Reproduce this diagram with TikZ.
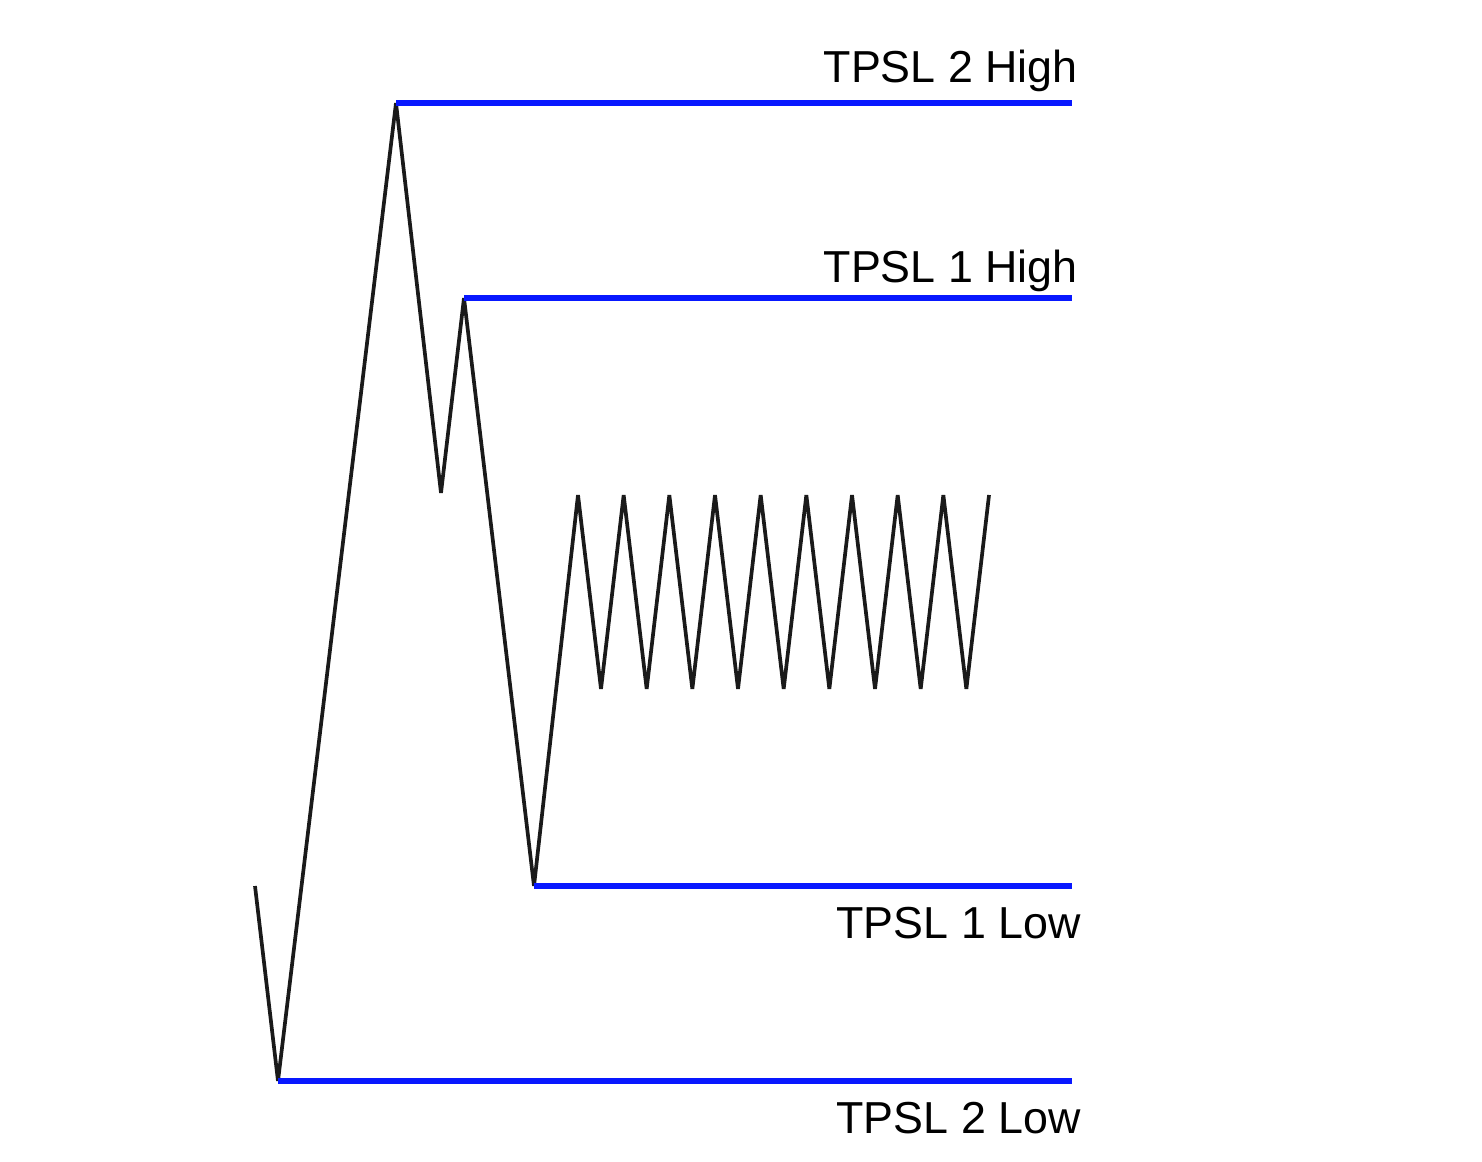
\documentclass[tikz,border=0pt]{standalone}
\usepackage{fontspec}
\setmainfont{Liberation Sans}
\definecolor{levelblue}{RGB}{8,24,255}
\definecolor{pricegray}{RGB}{26,26,26}

\begin{document}
\begin{tikzpicture}[x=0.02cm,y=-0.02cm,line join=bevel]
  \tikzset{price/.style={line width=2.1pt,draw=pricegray},
    level/.style={line width=3pt,draw=levelblue},
    tag/.style={font=\fontsize{25.5}{30}\selectfont,inner sep=0pt,anchor=base east}}
  \useasboundingbox (0,0) rectangle (1482,1162);
  % turning points of the price line
  \coordinate (start) at (255,886);
  \coordinate (low2) at (278,1081);
  \coordinate (high2) at (396,103);
  \coordinate (dip) at (441,493);
  \coordinate (high1) at (464,298);
  \coordinate (low1) at (534,886);
  \coordinate (range) at (578,495);
  % right ends of the levels
  \coordinate (high2r) at (1072,103);
  \coordinate (high1r) at (1072,298);
  \coordinate (low1r) at (1072,886);
  \coordinate (low2r) at (1072,1081);
  \draw[price] (start) -- (low2) -- (high2) -- (dip) -- (high1) -- (low1) -- (range)
    \foreach \i in {0,...,8} { -- ({601+45.67*\i},689) -- ({623.67+45.67*\i},495) };
  \draw[level] (high2) -- (high2r);
  \draw[level] (high1) -- (high1r);
  \draw[level] (low1) -- (low1r);
  \draw[level] (low2) -- (low2r);
  \node[tag] (tagh2) at (1078,83) {TPSL 2 High};
  \node[tag] (tagh1) at (1078,283) {TPSL 1 High};
  \node[tag] (tagl1) at (1081,938) {TPSL 1 Low};
  \node[tag] (tagl2) at (1081,1133) {TPSL 2 Low};
\end{tikzpicture}
\end{document}
